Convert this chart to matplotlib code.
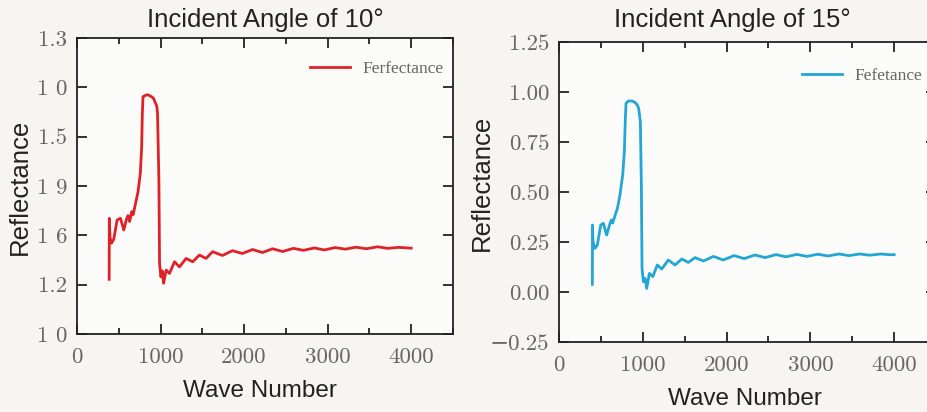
import matplotlib.pyplot as plt
from matplotlib.ticker import MultipleLocator, FixedLocator

# values
wave_10 = [385, 387, 395, 413, 440, 480, 520, 560, 591, 610, 630, 655, 672,
           700, 730, 758, 774, 782, 790, 829, 850, 889, 915, 940, 955, 964,
           980, 988, 1004, 1020, 1036, 1067, 1107, 1167, 1226, 1306, 1385,
           1464, 1544, 1623, 1740, 1860, 1980, 2100, 2220, 2340, 2460, 2590,
           2710, 2840, 2960, 3090, 3210, 3340, 3460, 3600, 3720, 3850, 4000]
refl_10 = [0.027, 0.336, 0.24, 0.21, 0.23, 0.328, 0.336, 0.277, 0.33, 0.35,
           0.32, 0.37, 0.355, 0.41, 0.47, 0.564, 0.70, 0.868, 0.953, 0.961,
           0.962, 0.953, 0.945, 0.919, 0.905, 0.868, 0.53, 0.108, 0.04, 0.07,
           0.007, 0.074, 0.057, 0.116, 0.09, 0.133, 0.116, 0.15, 0.133, 0.167,
           0.148, 0.172, 0.158, 0.178, 0.163, 0.182, 0.168, 0.184, 0.174,
           0.186, 0.176, 0.188, 0.18, 0.19, 0.182, 0.192, 0.184, 0.189, 0.185]

wave_15 = [398, 400, 406, 430, 458, 498, 530, 569, 609, 625, 641, 665, 697,
           728, 760, 780, 792, 800, 828, 870, 907, 935, 951, 971, 983, 991,
           1007, 1027, 1047, 1079, 1119, 1174, 1226, 1305, 1385, 1465, 1544,
           1624, 1724, 1843, 1960, 2090, 2210, 2340, 2460, 2590, 2710, 2840,
           2960, 3090, 3210, 3340, 3460, 3590, 3710, 3840, 3960, 4000]
refl_15 = [0.038, 0.335, 0.25, 0.218, 0.235, 0.335, 0.343, 0.285, 0.343, 0.36,
           0.345, 0.377, 0.418, 0.485, 0.585, 0.702, 0.868, 0.943, 0.955,
           0.955, 0.948, 0.935, 0.918, 0.852, 0.535, 0.118, 0.052, 0.068,
           0.018, 0.093, 0.077, 0.135, 0.115, 0.16, 0.135, 0.165, 0.148,
           0.172, 0.155, 0.178, 0.16, 0.182, 0.167, 0.185, 0.172, 0.187,
           0.176, 0.188, 0.178, 0.189, 0.18, 0.19, 0.182, 0.19, 0.184, 0.19,
           0.186, 0.187]

y_ticks = [-0.25, 0.0, 0.25, 0.5, 0.75, 1.0, 1.25]
y_labels_10 = ['1 0', '1.2', '1 6', '1 9', '1.5', '1 0', '1.3']
y_labels_15 = ['\u22120.25', '0.00', '0.25', '0.50', '0.75', '1.00', '1.25']
x_ticks = [0, 1000, 2000, 3000, 4000]

SANS = ['Liberation Sans', 'DejaVu Sans']
TICK_FONT = ['cmr10', 'DejaVu Serif']
LEG_FONT = ['Liberation Serif', 'DejaVu Serif']


def style_axes(ax, ylabels):
    ax.set_facecolor('#fbfbfa')
    ax.set_xlim(0, 4500)
    ax.set_ylim(-0.25, 1.25)
    ax.xaxis.set_major_locator(FixedLocator(x_ticks))
    ax.xaxis.set_minor_locator(MultipleLocator(500))
    ax.set_yticks(y_ticks)
    ax.set_yticklabels(ylabels)
    for s in ax.spines.values():
        s.set_linewidth(1.3)
        s.set_color('#222222')
    ax.tick_params(which='both', direction='in', top=True, right=True,
                   color='#222222', width=1.3)
    ax.tick_params(which='major', length=7)
    ax.tick_params(which='minor', length=4)
    ax.tick_params(axis='x', which='major', pad=10, labelsize=16.5,
                   labelcolor='#666666')
    ax.tick_params(axis='y', which='major', pad=7, labelsize=16.5,
                   labelcolor='#666666')
    for lab in ax.get_xticklabels() + ax.get_yticklabels():
        lab.set_family(TICK_FONT)


fig = plt.figure(figsize=(9.27, 4.12), dpi=100)
fig.patch.set_facecolor('#f6f5f2')

ax1 = fig.add_axes([77 / 927, 1 - 334 / 412, 376 / 927, 296 / 412])
ax2 = fig.add_axes([559 / 927, 1 - 342 / 412, 377 / 927, 300 / 412])

ax1.plot(wave_10, refl_10, color='#df2128', lw=2.0, label='Ferfectance')
ax2.plot(wave_15, refl_15, color='#22a6d3', lw=2.0, label='Fefetance')

style_axes(ax1, y_labels_10)
style_axes(ax2, y_labels_15)

ax1.set_title('Incident Angle of 10°', family=SANS, fontsize=18.5,
              color='#222222', pad=8)
ax2.set_title('Incident Angle of 15°', family=SANS, fontsize=18.5,
              color='#222222', pad=11, x=0.46)

for ax in (ax1, ax2):
    ax.set_xlabel('Wave Number', family=SANS, fontsize=17.5, color='#222222')
    ax.set_ylabel('Reflectance', family=SANS, fontsize=18.5, color='#222222')

ax1.xaxis.set_label_coords(0.487, -0.155)
ax2.xaxis.set_label_coords(0.493, -0.153)
ax1.yaxis.set_label_coords(-0.119, 0.497)
ax2.yaxis.set_label_coords(-0.172, 0.53)

for ax, anchor in ((ax1, (0.62, 0.895)), (ax2, (0.645, 0.887))):
    leg = ax.legend(loc='center left', bbox_to_anchor=anchor, frameon=False,
                    borderpad=0, borderaxespad=0, handlelength=2.3,
                    handletextpad=0.7, prop={'family': LEG_FONT, 'size': 12.5})
    for t in leg.get_texts():
        t.set_color('#666666')

fig.savefig('out.png', dpi=100, facecolor=fig.get_facecolor())
